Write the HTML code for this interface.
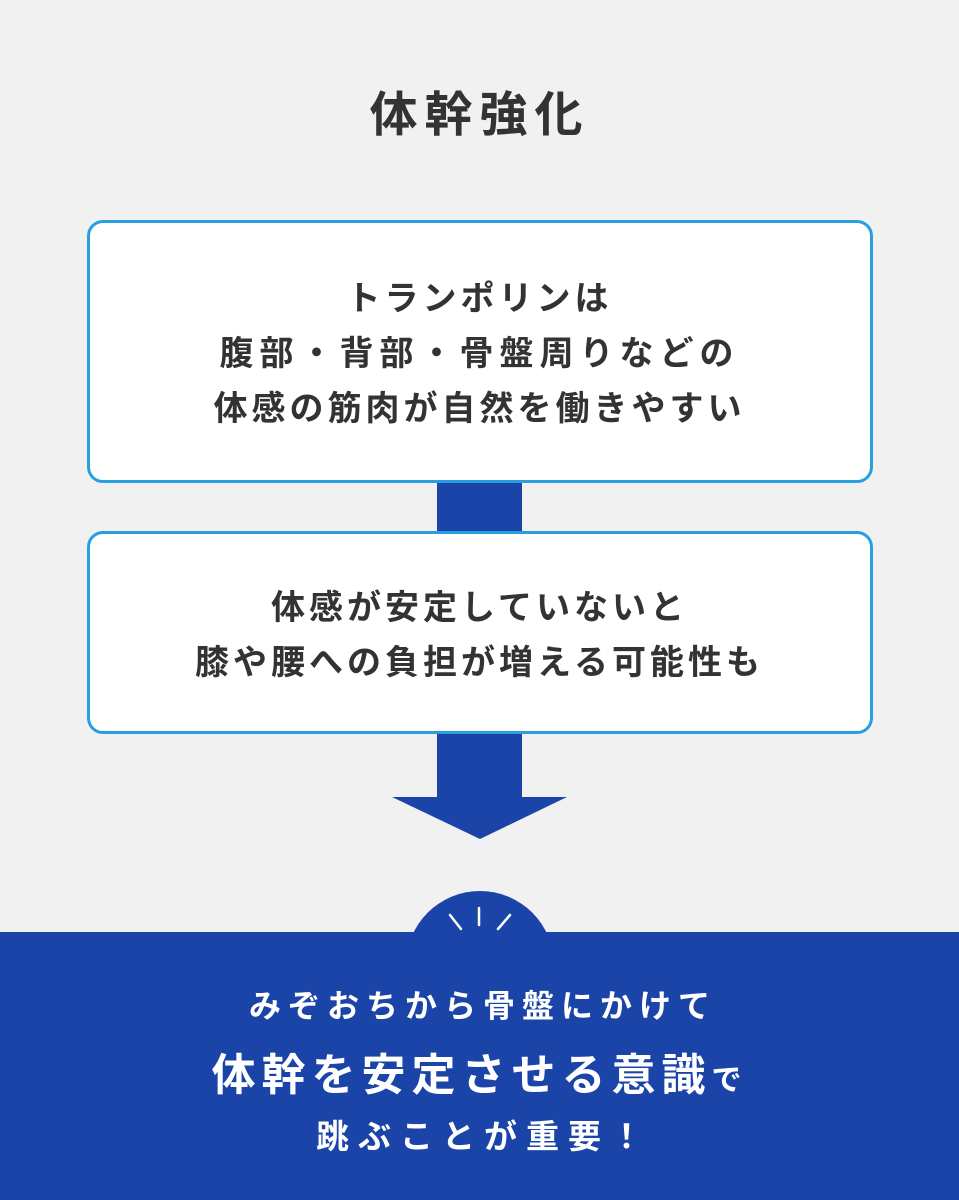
<!DOCTYPE html>
<html><head><meta charset="utf-8"><style>
*{margin:0;padding:0;box-sizing:border-box}
body{width:959px;height:1200px;background:#f1f1f1;position:relative;overflow:hidden;font-family:"Liberation Sans","Noto Sans CJK JP",sans-serif;font-weight:700;color:#333}
.t{position:absolute;left:0;width:959px;text-align:center;white-space:nowrap}
.box{position:absolute;left:87px;width:786px;background:#fff;border:3px solid #2a9fe0;border-radius:16px}
</style></head><body>
<div class="t" style="top:84px;font-size:48px;letter-spacing:7px;line-height:64px">体幹強化</div>
<svg style="position:absolute;left:0;top:0" width="959" height="1200">
<rect x="437" y="470" width="85" height="75" fill="#1a44a8"/>
<polygon points="437,720 522,720 522,797 567,797 480,839 392,797 437,797" fill="#1a44a8"/>
<circle cx="480" cy="965" r="74" fill="#1a44a8"/>
<rect x="0" y="932" width="959" height="268" fill="#1a44a8"/>
<g stroke="#fff" stroke-width="2.5" stroke-linecap="round">
<line x1="479" y1="908" x2="479" y2="925"/>
<line x1="450" y1="915" x2="461" y2="929"/>
<line x1="510" y1="915" x2="498" y2="929"/>
</g>
</svg>
<div class="box" style="top:220px;height:263px"></div>
<div class="box" style="top:531px;height:203px"></div>
<div class="t" style="top:272px;font-size:34px;letter-spacing:4px;line-height:55px">トランポリンは<br><span style="letter-spacing:6px">腹部・背部・骨盤周りなどの</span><br>体感の筋肉が自然を働きやすい</div>
<div class="t" style="top:581px;font-size:34px;letter-spacing:4px;line-height:55px">体感が安定していないと<br>膝や腰への負担が増える可能性も</div>
<div class="t" style="top:984px;font-size:32px;letter-spacing:7px;line-height:44px;color:#fff;padding-left:7px">みぞおちから骨盤にかけて</div>
<div class="t" style="top:1047px;font-size:44px;letter-spacing:6px;line-height:58px;color:#fff">体幹を安定させる意識<span style="font-size:30px">で</span></div>
<div class="t" style="top:1115px;font-size:33px;letter-spacing:9px;line-height:44px;color:#fff;padding-left:9px">跳ぶことが重要！</div>
</body></html>
